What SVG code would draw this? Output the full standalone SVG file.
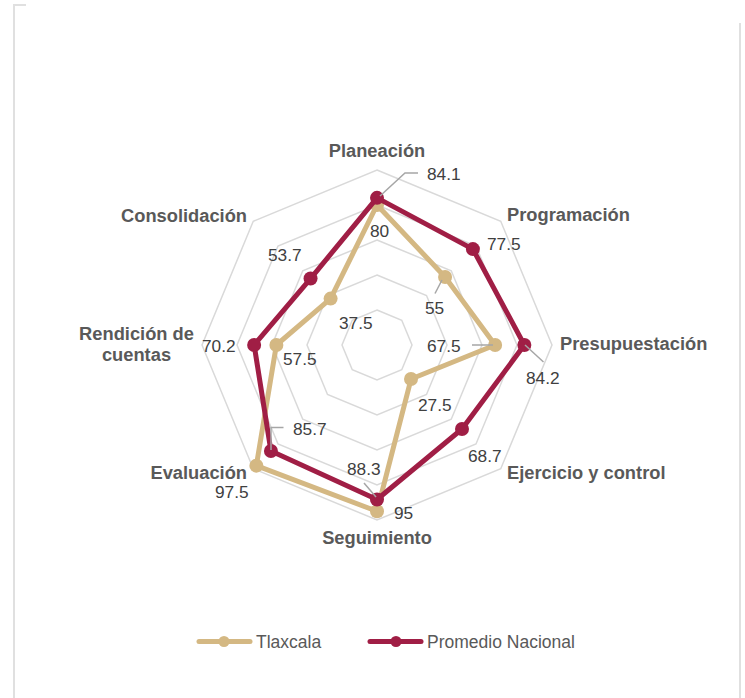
<svg xmlns="http://www.w3.org/2000/svg" width="745" height="698" viewBox="0 0 745 698">
<style>
.grid{fill:none;stroke:#d9d9d9;stroke-width:1.5}
.frame{fill:none;stroke:#e0e0e0;stroke-width:2}
.s1{fill:none;stroke:#D4B883;stroke-width:5;stroke-linejoin:round}
.s2{fill:none;stroke:#A01E45;stroke-width:5;stroke-linejoin:round}
.m1{fill:#D4B883}
.m2{fill:#A01E45}
.ax{font-family:"Liberation Sans",Arial,sans-serif;font-weight:bold;font-size:18.3px;fill:#595959}
.val{font-family:"Liberation Sans",Arial,sans-serif;font-size:17.3px;fill:#404040}
.lg{font-family:"Liberation Sans",Arial,sans-serif;font-size:17.5px;fill:#595959}
.lead{fill:none;stroke:#a6a6a6;stroke-width:1.5}
</style>
<rect x="0" y="0" width="745" height="698" fill="#ffffff"/>
<g id="frame">
<polyline class="frame" points="26,5 14,5 14,698"/>
<line class="frame" x1="740" y1="23" x2="740" y2="698"/>
</g>
<g id="grid">
<polygon class="grid" points="377,310 401.75,320.25 412,345 401.75,369.75 377,380 352.25,369.75 342,345 352.25,320.25"/>
<polygon class="grid" points="377,275 426.5,295.5 447,345 426.5,394.5 377,415 327.5,394.5 307,345 327.5,295.5"/>
<polygon class="grid" points="377,240 451.25,270.75 482,345 451.25,419.25 377,450 302.75,419.25 272,345 302.75,270.75"/>
<polygon class="grid" points="377,205 476,246 517,345 476,444 377,485 278,444 237,345 278,246"/>
<polygon class="grid" points="377,170 500.74,221.26 552,345 500.74,468.74 377,520 253.26,468.74 202,345 253.26,221.26"/>
</g>
<g id="connectors">
<g id="series-tlaxcala">
<polygon class="s1" points="377,205 445.06,276.94 495.13,345 411.03,379.03 377,511.25 256.35,465.65 276.38,345 330.6,298.6"/>
<circle class="m1" cx="377" cy="205" r="7"/>
<circle class="m1" cx="445.06" cy="276.94" r="7"/>
<circle class="m1" cx="495.13" cy="345" r="7"/>
<circle class="m1" cx="411.03" cy="379.03" r="7"/>
<circle class="m1" cx="377" cy="511.25" r="7"/>
<circle class="m1" cx="256.35" cy="465.65" r="7"/>
<circle class="m1" cx="276.38" cy="345" r="7"/>
<circle class="m1" cx="330.6" cy="298.6" r="7"/>
</g>
<g id="series-promedio">
<polygon class="s2" points="377,197.83 472.9,249.1 524.35,345 462.01,429.01 377,499.53 270.95,451.05 254.15,345 310.55,278.55"/>
<circle class="m2" cx="377" cy="197.83" r="7"/>
<circle class="m2" cx="472.9" cy="249.1" r="7"/>
<circle class="m2" cx="524.35" cy="345" r="7"/>
<circle class="m2" cx="462.01" cy="429.01" r="7"/>
<circle class="m2" cx="377" cy="499.53" r="7"/>
<circle class="m2" cx="270.95" cy="451.05" r="7"/>
<circle class="m2" cx="254.15" cy="345" r="7"/>
<circle class="m2" cx="310.55" cy="278.55" r="7"/>
</g>
<g id="leaders">
<polyline class="lead" points="380,196 405,173 418,173"/>
<polyline class="lead" points="442,280 435,293.5"/>
<polyline class="lead" points="525,345 543.5,362"/>
<polyline class="lead" points="472,345 493,345"/>
<polyline class="lead" points="364,483 376,497"/>
<polyline class="lead" points="271,450 271,427.5 283.5,427.5"/>
</g>
</g>
<g id="axis-labels">
<text class="ax" x="377" y="157" text-anchor="middle">Planeación</text>
<text class="ax" x="507" y="221">Programación</text>
<text class="ax" x="560" y="350">Presupuestación</text>
<text class="ax" x="507" y="478.5">Ejercicio y control</text>
<text class="ax" x="377" y="543.5" text-anchor="middle">Seguimiento</text>
<text class="ax" x="247" y="479" text-anchor="end">Evaluación</text>
<text class="ax" x="136.5" y="340" text-anchor="middle">Rendición de</text>
<text class="ax" x="136.5" y="361" text-anchor="middle">cuentas</text>
<text class="ax" x="247" y="222" text-anchor="end">Consolidación</text>
</g>
<g id="value-labels">
<text class="val" x="427" y="179.5">84.1</text>
<text class="val" x="370" y="237">80</text>
<text class="val" x="487" y="249.5">77.5</text>
<text class="val" x="425" y="314">55</text>
<text class="val" x="427" y="352">67.5</text>
<text class="val" x="526" y="383.5">84.2</text>
<text class="val" x="418" y="411">27.5</text>
<text class="val" x="468" y="462">68.7</text>
<text class="val" x="394" y="518.5">95</text>
<text class="val" x="347" y="474.5">88.3</text>
<text class="val" x="215" y="498">97.5</text>
<text class="val" x="293" y="435">85.7</text>
<text class="val" x="283" y="364.5">57.5</text>
<text class="val" x="202" y="352">70.2</text>
<text class="val" x="268" y="261">53.7</text>
<text class="val" x="339" y="328.5">37.5</text>
</g>
<g id="legend">
<g id="legend-tlaxcala">
<line x1="199" y1="641.5" x2="250" y2="641.5" stroke="#D4B883" stroke-width="5" stroke-linecap="round"/>
<circle class="m1" cx="224" cy="641.5" r="5.5"/>
<text class="lg" x="256" y="647.5">Tlaxcala</text>
</g>
<g id="legend-promedio">
<line x1="370" y1="641.5" x2="421" y2="641.5" stroke="#A01E45" stroke-width="5" stroke-linecap="round"/>
<circle class="m2" cx="396" cy="641.5" r="5.5"/>
<text class="lg" x="427" y="647.5">Promedio Nacional</text>
</g>
</g>
</svg>
